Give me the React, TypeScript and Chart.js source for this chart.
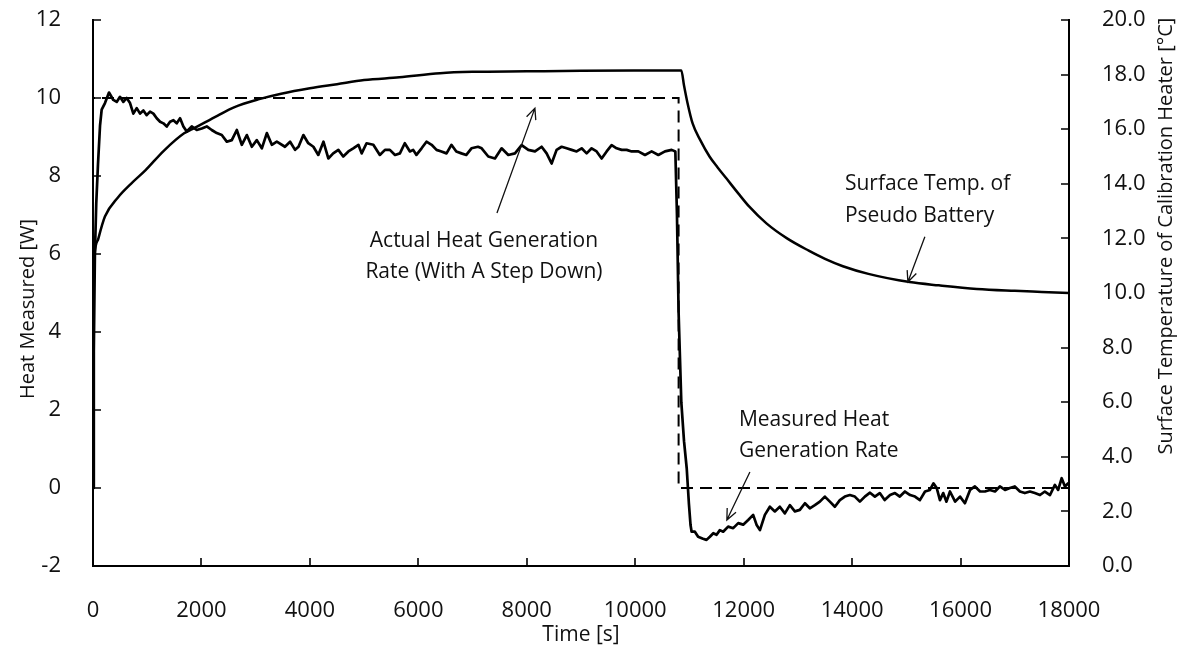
import React, { useEffect, useRef } from 'react';
import { Chart, registerables } from 'chart.js';

Chart.register(...registerables);

const FONT = "'Open Sans', sans-serif";

// X axis (time, s)
const xMin = 0;
const xMax = 18000;
const xStep = 2000;
// Left axis (heat, W)
const yMin = -2;
const yMax = 12;
const yStep = 2;
// Right axis (temperature, °C)
const y1Min = 0;
const y1Max = 20;
const y1Step = 2;

// Actual heat generation rate (dashed step)
const actualTime = [0, 0, 10800, 10800, 18000];
const actualHeat = [0, 10, 10, 0, 0];

// Measured heat generation rate
const measuredTime = [
  0, 15, 35, 60, 92, 130, 160, 221, 295, 375, 437, 498, 560, 621, 683, 744, 806, 868, 929, 990,
  1052, 1114, 1175, 1237, 1298, 1360, 1421, 1483, 1544, 1606, 1667, 1729, 1821, 1913, 2006, 2098,
  2190, 2283, 2375, 2467, 2560, 2652, 2744, 2837, 2929, 3021, 3114, 3206, 3298, 3390, 3540, 3635,
  3727, 3790, 3880, 3970, 4065, 4155, 4250, 4340, 4430, 4525, 4615, 4710, 4800, 4895, 4955, 5045,
  5170, 5290, 5385, 5475, 5570, 5660, 5750, 5845, 5905, 5965, 6060, 6150, 6245, 6335, 6425, 6520,
  6610, 6700, 6795, 6885, 6980, 7100, 7168, 7290, 7413, 7536, 7659, 7782, 7905, 8028, 8151, 8274,
  8366, 8458, 8550, 8643, 8735, 8827, 8919, 9012, 9104, 9196, 9288, 9381, 9473, 9565, 9657, 9750,
  9842, 9934, 10057, 10180, 10303, 10426, 10549, 10672, 10740, 10770, 10800, 10850, 10900, 10950,
  10990, 11020, 11040, 11100, 11160, 11250, 11315, 11377, 11440, 11500, 11561, 11622, 11714, 11807,
  11900, 11991, 12083, 12175, 12237, 12300, 12391, 12483, 12575, 12667, 12760, 12852, 12944, 13036,
  13130, 13220, 13313, 13405, 13497, 13590, 13682, 13774, 13866, 13958, 14050, 14143, 14235, 14330,
  14420, 14510, 14600, 14700, 14790, 14880, 14975, 15070, 15160, 15250, 15345, 15435, 15500, 15560,
  15620, 15680, 15740, 15805, 15900, 15990, 16080, 16175, 16265, 16360, 16450, 16540, 16635, 16725,
  16820, 16910, 17000, 17095, 17185, 17280, 17370, 17465, 17555, 17650, 17740, 17800, 17865, 17925,
  17985, 18000,
];
const measuredHeat = [
  0.0, 3.5, 6.0, 7.3, 8.3, 9.3, 9.7, 9.87, 10.14, 9.95, 9.9, 10.03, 9.9, 10.0, 9.87, 9.6, 9.74, 9.6, 9.68, 9.56,
  9.65, 9.6, 9.48, 9.39, 9.35, 9.27, 9.39, 9.43, 9.35, 9.48, 9.27, 9.14, 9.27, 9.18, 9.22, 9.27,
  9.18, 9.1, 9.05, 8.88, 8.92, 9.18, 8.8, 9.05, 8.75, 8.92, 8.71, 9.1, 8.8, 8.88, 8.75, 8.88,
  8.67, 8.75, 9.05, 8.84, 8.75, 8.54, 8.88, 8.45, 8.58, 8.67, 8.5, 8.63, 8.71, 8.8, 8.58, 8.84,
  8.8, 8.54, 8.67, 8.67, 8.54, 8.58, 8.84, 8.63, 8.67, 8.54, 8.71, 8.88, 8.8, 8.67, 8.63, 8.58,
  8.8, 8.63, 8.58, 8.54, 8.71, 8.75, 8.71, 8.5, 8.45, 8.71, 8.54, 8.58, 8.79, 8.67, 8.63, 8.75,
  8.58, 8.32, 8.67, 8.75, 8.71, 8.67, 8.63, 8.71, 8.58, 8.71, 8.63, 8.45, 8.63, 8.79, 8.71, 8.67,
  8.67, 8.63, 8.63, 8.54, 8.63, 8.54, 8.63, 8.67, 8.63, 7.0, 4.5, 2.2, 1.2, 0.5,
  -0.4, -0.95, -1.12, -1.12, -1.25, -1.3, -1.33, -1.25, -1.16, -1.2, -1.08, -1.12, -0.99, -1.03,
  -0.9, -0.94, -0.82, -0.69, -0.94, -1.08, -0.69, -0.48, -0.6, -0.48, -0.65, -0.44, -0.6, -0.56,
  -0.39, -0.52, -0.44, -0.35, -0.22, -0.35, -0.48, -0.31, -0.22, -0.18, -0.22, -0.35, -0.22, -0.12,
  -0.22, -0.13, -0.31, -0.18, -0.13, -0.22, -0.09, -0.18, -0.22, -0.31, -0.09, -0.05, 0.12, 0.0,
  -0.31, -0.13, -0.35, -0.09, -0.35, -0.22, -0.39, -0.05, 0.04, -0.09, -0.09, -0.05, -0.09, 0.04,
  -0.05, 0.0, 0.04, -0.09, -0.13, -0.09, -0.13, -0.18, -0.09, -0.18, 0.08, -0.05, 0.25, 0.04,
  0.12, 0.1,
];

// Surface temperature of pseudo battery (right axis, °C)
const tempTime = [
  0, 30, 100, 220, 460, 700, 970, 1300, 1680, 1830, 2300, 2600, 3065, 3470, 4000, 4500, 5000, 5650,
  6400, 7000, 8000, 9000, 10000, 10850, 10900, 10960, 11060, 11200, 11370, 11520, 11680, 11900,
  12100, 12420, 12800, 13200, 13500, 13830, 14300, 15060, 15600, 16300, 17000, 17500, 18000,
];
const tempValue = [
  10.2, 11.4, 12.0, 12.8, 13.5, 14.0, 14.5, 15.2, 15.85, 16.0, 16.5, 16.8, 17.1, 17.3, 17.5, 17.65, 17.8, 17.9,
  18.05, 18.1, 18.12, 18.14, 18.15, 18.15, 17.6, 17.0, 16.2, 15.6, 15.0, 14.6, 14.2, 13.65,
  13.17, 12.55, 12.0, 11.55, 11.25, 10.98, 10.7, 10.4, 10.28, 10.15, 10.08, 10.04, 10.0,
];

// Annotation texts (in data coordinates of x / left y axis)
const annotationTexts = [
  { lines: ['Actual Heat Generation', 'Rate (With A Step Down)'], x: 7210, y: [6.33, 5.55], align: 'center' },
  { lines: ['Surface Temp. of', 'Pseudo Battery'], x: 13867, y: [7.8, 6.98], align: 'left' },
  { lines: ['Measured Heat', 'Generation Rate'], x: 11912, y: [1.74, 0.95], align: 'left' },
];
// Arrows: [fromX, fromY, toX, toY] in data coordinates (x / left y)
const annotationArrows = [
  [7450, 7.05, 8150, 9.74],
  [15342, 6.44, 15029, 5.28],
  [12115, 0.41, 11690, -0.82],
];

const leftTitle = 'Heat Measured [W]';
const rightTitle = 'Surface Temperature of Calibration Heater [°C]';
const bottomTitle = 'Time [s]';

const innerTicksPlugin = {
  id: 'innerTicks',
  afterDraw(chart: any) {
    const { ctx, chartArea, scales } = chart;
    const len = 8;
    ctx.save();
    ctx.strokeStyle = '#000';
    ctx.lineWidth = 1.6;
    ctx.beginPath();
    scales.x.ticks.forEach((t: any) => {
      const p = Math.round(scales.x.getPixelForValue(t.value));
      ctx.moveTo(p, chartArea.bottom);
      ctx.lineTo(p, chartArea.bottom - len);
    });
    scales.y.ticks.forEach((t: any) => {
      const p = Math.round(scales.y.getPixelForValue(t.value));
      ctx.moveTo(chartArea.left, p);
      ctx.lineTo(chartArea.left + len, p);
    });
    scales.y1.ticks.forEach((t: any) => {
      const p = Math.round(scales.y1.getPixelForValue(t.value));
      ctx.moveTo(chartArea.right, p);
      ctx.lineTo(chartArea.right - len, p);
    });
    ctx.stroke();
    ctx.restore();
  },
};

const annotationsPlugin = {
  id: 'annotationsDraw',
  afterDraw(chart: any) {
    const { ctx, scales, chartArea } = chart;
    const sx = scales.x;
    const sy = scales.y;
    ctx.save();
    ctx.fillStyle = '#111';
    ctx.textBaseline = 'middle';
    ctx.font = `21px ${FONT}`;
    annotationTexts.forEach((a) => {
      ctx.textAlign = a.align;
      a.lines.forEach((line, i) => {
        ctx.fillText(line, sx.getPixelForValue(a.x), sy.getPixelForValue(a.y[i]));
      });
    });
    ctx.strokeStyle = '#111';
    ctx.lineWidth = 1.3;
    annotationArrows.forEach((ar) => {
      const x1 = sx.getPixelForValue(ar[0]);
      const y1 = sy.getPixelForValue(ar[1]);
      const x2 = sx.getPixelForValue(ar[2]);
      const y2 = sy.getPixelForValue(ar[3]);
      const ang = Math.atan2(y2 - y1, x2 - x1);
      const h = 12;
      const spread = 0.42;
      ctx.beginPath();
      ctx.moveTo(x1, y1);
      ctx.lineTo(x2, y2);
      ctx.moveTo(x2 - h * Math.cos(ang - spread), y2 - h * Math.sin(ang - spread));
      ctx.lineTo(x2, y2);
      ctx.lineTo(x2 - h * Math.cos(ang + spread), y2 - h * Math.sin(ang + spread));
      ctx.stroke();
    });

    // Axis titles
    ctx.font = `20px ${FONT}`;
    ctx.textAlign = 'center';
    ctx.textBaseline = 'middle';
    ctx.save();
    ctx.translate(28, (chartArea.top + chartArea.bottom) / 2 + 16);
    ctx.rotate(-Math.PI / 2);
    ctx.fillText(leftTitle, 0, 0);
    ctx.restore();
    ctx.save();
    ctx.translate(1166, 236);
    ctx.rotate(-Math.PI / 2);
    ctx.fillText(rightTitle, 0, 0);
    ctx.restore();
    ctx.font = `21px ${FONT}`;
    ctx.fillText(bottomTitle, (chartArea.left + chartArea.right) / 2, 635);
    ctx.restore();
  },
};

const zeroScalePadding = (s: any) => {
  s.paddingTop = 0;
  s.paddingBottom = 0;
  s.paddingLeft = 0;
  s.paddingRight = 0;
};

export default function App() {
  const canvasRef = useRef<HTMLCanvasElement | null>(null);

  useEffect(() => {
    if (!canvasRef.current) return;
    const tickFont = { family: FONT, size: 22 };
    const chart = new Chart(canvasRef.current, {
      type: 'line',
      data: {
        datasets: [
          {
            label: 'Actual',
            data: actualTime.map((t, i) => ({ x: t, y: actualHeat[i] })),
            yAxisID: 'y',
            borderColor: '#000',
            borderWidth: 2,
            borderDash: [12, 7],
            pointRadius: 0,
            fill: false,
            tension: 0,
          },
          {
            label: 'Measured',
            data: measuredTime.map((t, i) => ({ x: t, y: measuredHeat[i] })),
            yAxisID: 'y',
            borderColor: '#000',
            borderWidth: 2.7,
            pointRadius: 0,
            fill: false,
            tension: 0,
            borderJoinStyle: 'round',
          },
          {
            label: 'Temperature',
            data: tempTime.map((t, i) => ({ x: t, y: tempValue[i] })),
            yAxisID: 'y1',
            borderColor: '#000',
            borderWidth: 2.5,
            pointRadius: 0,
            fill: false,
            cubicInterpolationMode: 'monotone',
          },
        ],
      },
      options: {
        animation: false,
        responsive: false,
        events: [],
        layout: { padding: { top: 20, left: 0, right: 0, bottom: 0 } },
        plugins: {
          legend: { display: false },
          tooltip: { enabled: false },
          title: { display: false },
        },
        scales: {
          x: {
            type: 'linear',
            min: xMin,
            max: xMax,
            ticks: {
              stepSize: xStep,
              font: tickFont,
              color: '#111',
              padding: 24,
              maxRotation: 0,
              autoSkip: false,
              callback: (v: any) => String(v),
            },
            grid: { display: false },
            border: { display: true, color: '#000', width: 2 },
            afterFit: (s: any) => {
              s.height = 87;
              zeroScalePadding(s);
            },
          },
          y: {
            position: 'left',
            min: yMin,
            max: yMax,
            ticks: {
              stepSize: yStep,
              font: tickFont,
              color: '#111',
              padding: 24,
              callback: (v: any) => String(v),
            },
            grid: { display: false },
            border: { display: true, color: '#000', width: 2 },
            afterFit: (s: any) => {
              s.width = 93;
              zeroScalePadding(s);
            },
          },
          y1: {
            position: 'right',
            min: y1Min,
            max: y1Max,
            ticks: {
              stepSize: y1Step,
              font: tickFont,
              color: '#111',
              padding: 25,
              callback: (v: any) => Number(v).toFixed(1),
            },
            grid: { display: false },
            border: { display: true, color: '#000', width: 2 },
            afterFit: (s: any) => {
              s.width = 113;
              zeroScalePadding(s);
            },
          },
        },
      },
      plugins: [innerTicksPlugin, annotationsPlugin],
    } as any);
    return () => chart.destroy();
  }, []);

  return (
    <div style={{ position: 'absolute', left: 0, top: 0, width: 1182, height: 653, background: '#fff' }}>
      <canvas ref={canvasRef} width={1182} height={653} style={{ width: 1182, height: 653, display: 'block' }} />
    </div>
  );
}
